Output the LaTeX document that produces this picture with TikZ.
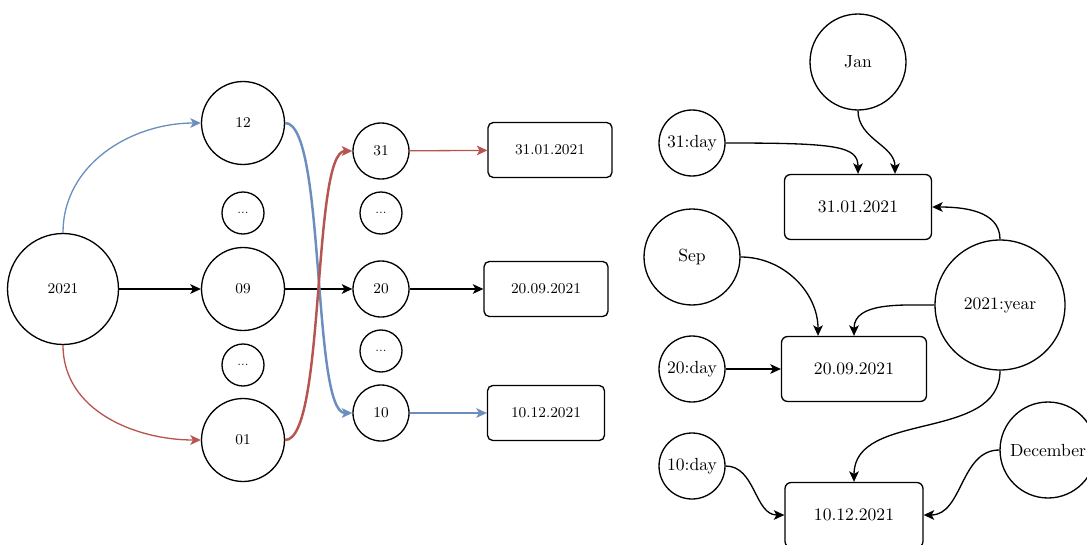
\documentclass[tikz,border=0pt]{standalone}
\usepackage{tikz}
\usetikzlibrary{arrows.meta}
\definecolor{blu}{HTML}{6C8EBF}
\definecolor{rd}{HTML}{B85450}

\begin{document}
\begin{tikzpicture}[x=0.02cm, y=0.02cm, line width=0.75pt, >={Stealth[length=6pt,width=5.5pt,inset=1.5pt]}]
\tikzstyle{num} = [draw, circle, inner sep=0cm, font=\fontsize{8.5}{10}\selectfont]
\tikzstyle{dotsnode} = [draw, circle, minimum size=0.84cm, inner sep=0cm, font=\fontsize{6.5}{7}\selectfont]
\tikzstyle{datebox} = [draw, rounded corners=3pt, minimum width=2.48cm, minimum height=1.1cm, font=\fontsize{8.5}{10}\selectfont]
\tikzstyle{attr} = [draw, circle, inner sep=0cm]
\tikzstyle{rdate} = [draw, rounded corners=3.5pt, minimum width=2.94cm, minimum height=1.3cm]
\tikzstyle{link} = [line width=1.4pt]
\useasboundingbox (0,0) rectangle (1087,-544);
% tree of year, month, day
\node[num, minimum size=2.22cm] (yr) at (63,-289) {2021};
\node[num, minimum size=1.66cm] (m12) at (243,-123) {12};
\node[dotsnode] (e1) at (243,-213) {...};
\node[num, minimum size=1.66cm] (m09) at (243,-289) {09};
\node[dotsnode] (e2) at (243,-365) {...};
\node[num, minimum size=1.66cm] (m01) at (243,-440) {01};
\node[num, minimum size=1.12cm] (d31) at (381,-151) {31};
\node[dotsnode] (e3) at (381,-213) {...};
\node[num, minimum size=1.12cm] (d20) at (381,-289) {20};
\node[dotsnode] (e4) at (381,-351) {...};
\node[num, minimum size=1.12cm] (d10) at (381,-413) {10};
\node[datebox] (b1) at (550,-150) {31.01.2021};
\node[datebox] (b2) at (546,-289) {20.09.2021};
\node[datebox, minimum width=2.34cm] (b3) at (546,-413) {10.12.2021};
\draw[->] (yr) -- (m09);
\draw[->] (m09) -- (d20);
\draw[->] (d20) -- (b2);
\draw[->, blu] (yr.north) to[out=90, in=180] (m12.west);
\draw[->, rd] (yr.south) to[out=-90, in=180] (m01.west);
\draw[->, blu, link] (m12.east) to[out=0, in=180, looseness=0.35] (d10.west);
\draw[->, rd, link] (m01.east) to[out=0, in=180, looseness=0.35] (d31.west);
\draw[->, rd] (d31) -- (b1);
\draw[->, blu] (d10) -- (b3);
% graph of attributes
\node[attr, minimum size=1.92cm] (jan) at (858,-62) {Jan};
\node[attr, minimum size=1.32cm] (day31) at (692,-143) {31:day};
\node[rdate] (r1) at (858,-207) {31.01.2021};
\node[attr, minimum size=1.92cm] (sep) at (692,-257) {Sep};
\node[attr, minimum size=2.6cm] (year) at (1000,-305) {2021:year};
\node[attr, minimum size=1.32cm] (day20) at (692,-369) {20:day};
\node[rdate, minimum width=2.9cm] (r2) at (854,-369) {20.09.2021};
\node[attr, minimum size=1.32cm] (day10) at (692,-466) {10:day};
\node[attr, minimum size=1.92cm] (dec) at (1048,-450) {December};
\node[rdate, minimum width=2.76cm] (r3) at (854,-515) {10.12.2021};
\draw[->] (day31.east) .. controls +(110,0) and +(0,28) .. (r1.north);
\draw[->] (jan.south) to[out=-90, in=90] ([xshift=0.74cm]r1.north);
\draw[->] (year.north) to[out=90, in=0] (r1.east);
\draw[->] (sep.east) to[out=0, in=90] ([xshift=-0.72cm]r2.north);
\draw[->] (year.west) to[out=180, in=90] (r2.north);
\draw[->] (day20) -- (r2);
\draw[->] (year.south) to[out=-90, in=90] (r3.north);
\draw[->] (day10.east) to[out=0, in=180] (r3.west);
\draw[->] (dec.west) to[out=180, in=0] (r3.east);
\end{tikzpicture}
\end{document}
